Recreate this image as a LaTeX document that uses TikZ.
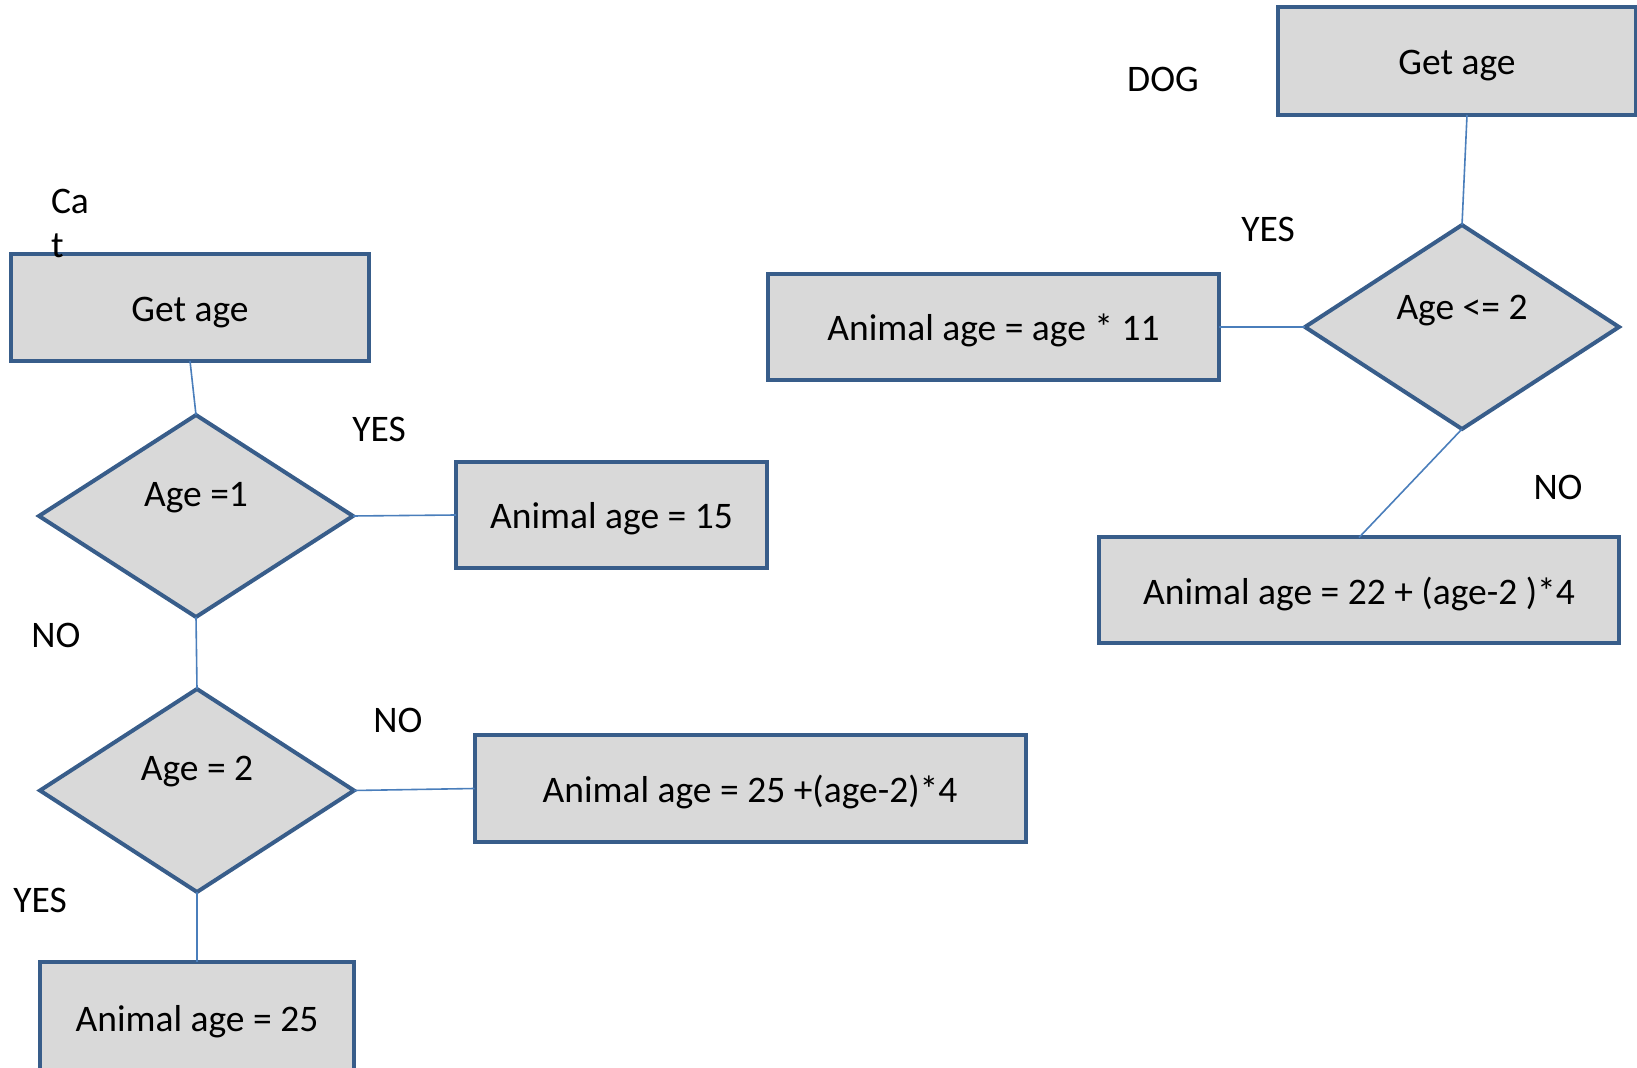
\documentclass[tikz,border=0pt]{standalone}
\usepackage{fontspec}
\setmainfont{Carlito}
\usetikzlibrary{shapes.geometric}
\definecolor{bordc}{HTML}{385D8A}
\definecolor{boxfill}{HTML}{D9D9D9}
\definecolor{linkc}{HTML}{4A7EBB}
\begin{document}
\begin{tikzpicture}[x=0.5pt,y=-0.5pt,
  every node/.style={font=\fontsize{18.75}{22}\selectfont, inner sep=0pt, outer sep=0pt},
  stepbox/.style={draw=bordc, fill=boxfill, line width=2pt, rectangle,
                  text height=14pt, text depth=0pt},
  decision/.style={draw=bordc, fill=boxfill, line width=2pt, diamond},
  link/.style={draw=linkc, line width=0.8pt},
  tag/.style={anchor=base}]
\useasboundingbox (0,0) rectangle (1637,1068);

% ---------- Cat ----------
\node[stepbox, minimum width=179pt, minimum height=53.5pt] (cget) at (190,307.5) {Get age};
\node[anchor=base west, align=left] (cattitle) at (51,258) {Ca\\t};
\node[decision, minimum width=157pt, minimum height=101pt] (c1) at (196,516) {};
\node[tag] (c1txt) at (196,507) {Age =1};
\node[stepbox, minimum width=155.5pt, minimum height=53pt] (c15) at (611.5,515) {Animal age = 15};
\node[decision, minimum width=157pt, minimum height=101.5pt] (c2) at (197,790.5) {};
\node[tag] (c2txt) at (197,780) {Age = 2};
\node[stepbox, minimum width=275.5pt, minimum height=53.5pt] (c25p) at (750,788.5) {Animal age = 25 +(age-2)*4};
\node[stepbox, minimum width=157pt, minimum height=55pt] (c25) at (197,1017) {Animal age = 25};

\node[tag] (cyes1) at (379,442) {YES};
\node[tag] (cno1) at (56,647) {NO};
\node[tag] (cno2) at (398,732) {NO};
\node[tag] (cyes2) at (40,912) {YES};

\draw[link] (cget.south) -- (c1.north);
\draw[link] (c1.east) -- (c15.west);
\draw[link] (c1.south) -- (c2.north);
\draw[link] (c2.east) -- (c25p.west);
\draw[link] (c2.south) -- (c25.north);

% ---------- Dog ----------
\node[tag] (dogtitle) at (1163,92) {DOG};
\node[stepbox, minimum width=179pt, minimum height=54pt] (dget) at (1457,61) {Get age};
\node[decision, minimum width=157pt, minimum height=102pt] (d1) at (1462,327) {};
\node[tag] (d1txt) at (1462,320) {Age <= 2};
\node[stepbox, minimum width=225.5pt, minimum height=53pt] (d11) at (993.5,327) {Animal age = age * 11};
\node[stepbox, minimum width=260pt, minimum height=53pt] (d22) at (1359,590.5) {Animal age = 22 + (age-2 )*4};

\node[tag] (dyes) at (1268,242) {YES};
\node[tag] (dno) at (1558,500) {NO};

\draw[link] ([xshift=5pt]dget.south) -- (d1.north);
\draw[link] (d11.east) -- (d1.west);
\draw[link] (d1.south) -- (d22.north);
\end{tikzpicture}
\end{document}
